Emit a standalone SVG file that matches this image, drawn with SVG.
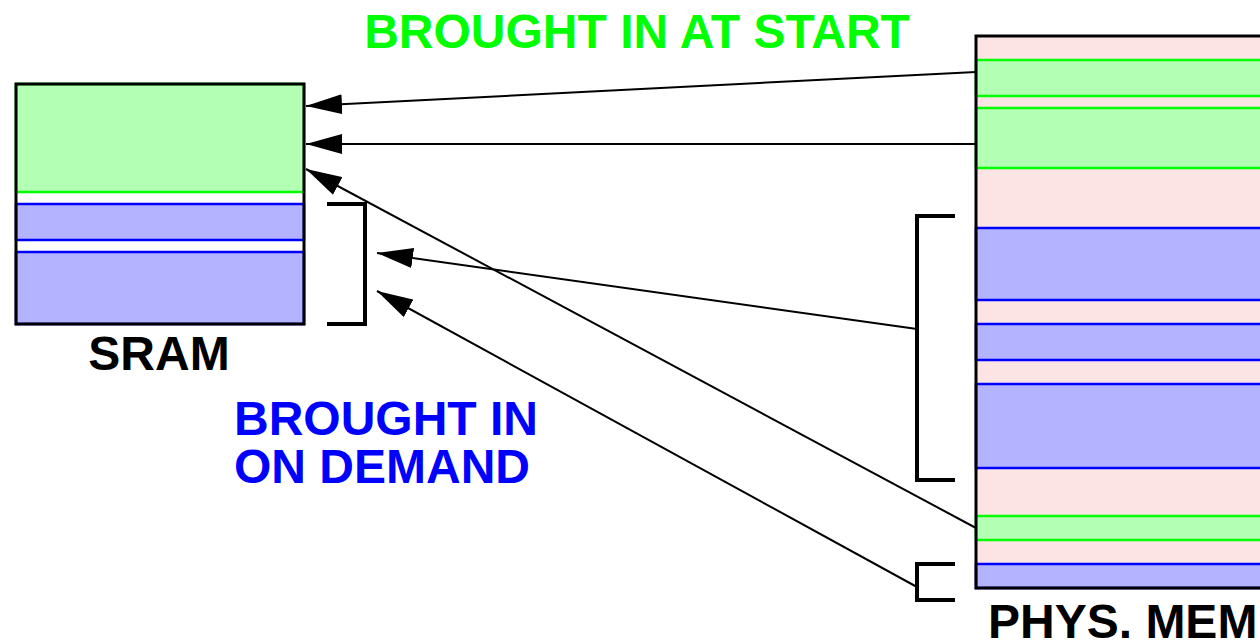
<svg xmlns="http://www.w3.org/2000/svg" width="1260" height="641" viewBox="0 0 1260 641">
  <style>
    .lbl { font-family: "Liberation Sans", Arial, sans-serif; font-weight: bold; font-size: 48px; }
    .g { fill: #b3ffb3; stroke: #00ff00; stroke-width: 2.5; }
    .b { fill: #b3b3ff; stroke: #0000ff; stroke-width: 2.5; }
    .frame { fill: none; stroke: #000; stroke-width: 3; }
    .brk { fill: none; stroke: #000; stroke-width: 4; }
    .wire { fill: none; stroke: #000; stroke-width: 2; marker-end: url(#head); }
  </style>
  <defs>
    <marker id="head" markerUnits="userSpaceOnUse" markerWidth="36" markerHeight="20" refX="36" refY="10" orient="auto" viewBox="0 0 36 20">
      <path d="M0,0 L36,10 L0,20 Z" fill="#000"/>
    </marker>
  </defs>
  <rect width="1260" height="641" fill="#fff"/>

  <!-- title -->
  <text class="lbl" x="637" y="48" text-anchor="middle" fill="#00ff00">BROUGHT IN AT START</text>

  <!-- on-chip SRAM -->
  <g id="sram">
    <rect x="16" y="84" width="288" height="240" fill="#fff"/>
    <rect class="g" x="16" y="84" width="288" height="108"/>
    <rect class="b" x="16" y="204" width="288" height="36"/>
    <rect class="b" x="16" y="252" width="288" height="72"/>
    <rect class="frame" x="16" y="84" width="288" height="240"/>
    <text class="lbl" x="159" y="370" text-anchor="middle" fill="#000">SRAM</text>
  </g>

  <!-- physical memory -->
  <g id="physmem">
    <rect x="976" y="36" width="300" height="552" fill="#fde4e4"/>
    <rect class="g" x="976" y="60" width="300" height="36"/>
    <rect class="g" x="976" y="108" width="300" height="60"/>
    <rect class="b" x="976" y="228" width="300" height="72"/>
    <rect class="b" x="976" y="324" width="300" height="36"/>
    <rect class="b" x="976" y="384" width="300" height="84"/>
    <rect class="g" x="976" y="516" width="300" height="24"/>
    <rect class="b" x="976" y="564" width="300" height="24"/>
    <rect class="frame" x="976" y="36" width="300" height="552"/>
    <text class="lbl" x="988" y="638" fill="#000">PHYS. MEM</text>
  </g>

  <!-- on-demand label and brackets -->
  <g id="demand">
    <text class="lbl" x="234" y="435" fill="#0000ff">BROUGHT IN</text>
    <text class="lbl" x="234" y="483" fill="#0000ff">ON DEMAND</text>
    <path class="brk" d="M327,204 H365 V324 H327"/>
    <path class="brk" d="M955,216 H917 V480 H955"/>
    <path class="brk" d="M955,564 H917 V600 H955"/>
  </g>

  <!-- transfers into SRAM -->
  <g id="connectors">
    <line class="wire" x1="976" y1="72" x2="306" y2="106"/>
    <line class="wire" x1="976" y1="144" x2="306" y2="144"/>
    <line class="wire" x1="976" y1="528" x2="306" y2="169"/>
    <line class="wire" x1="917" y1="329" x2="377" y2="253"/>
    <line class="wire" x1="917" y1="587" x2="377" y2="291"/>
  </g>
</svg>
